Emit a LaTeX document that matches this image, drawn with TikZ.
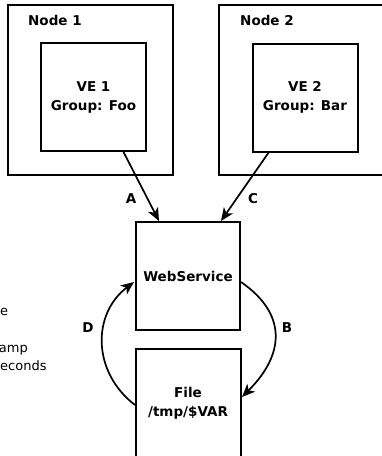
\documentclass[tikz,border=0pt]{standalone}
\usepackage{fontspec}
\setmainfont{DejaVu Sans}
\usetikzlibrary{arrows.meta}
\begin{document}
\begin{tikzpicture}[x=1pt,y=-1pt,
  every node/.style={font=\fontsize{13.5pt}{19pt}\selectfont\bfseries},
  box/.style={draw,line width=2pt,inner sep=0pt,align=center},
  flow/.style={line width=1.7pt,-{Stealth[length=13pt,width=11pt,inset=3.5pt]}},
  tag/.style={inner sep=0pt},
  note/.style={inner sep=0pt,font=\fontsize{13pt}{16pt}\selectfont}]
\useasboundingbox (0,0) rectangle (382,456);

% hosts
\node[box,minimum width=165pt,minimum height=170pt] (n1) at (90.5,90) {};
\node[box,minimum width=165pt,minimum height=170pt] (n2) at (301.5,90) {};
\node[tag,anchor=west] (n1lbl) at (28,20) {Node 1};
\node[tag,anchor=west] (n2lbl) at (240,20) {Node 2};

% virtual environments
\node[box,minimum width=105pt,minimum height=108pt] (ve1) at (93.5,97) {VE 1\\Group: Foo};
\node[box,minimum width=105pt,minimum height=108pt] (ve2) at (305,97.5) {VE 2\\Group: Bar};

% service and its file
\node[box,minimum width=104pt,minimum height=108pt] (ws) at (188,276) {WebService};
\node[box,minimum width=105pt,minimum height=109pt] (file) at (188,403.5) {File\\/tmp/\$VAR};

% anchor points for the connectors
\coordinate (a0) at (123,151);
\coordinate (a1) at (159,221);
\coordinate (c0) at (269,152);
\coordinate (c1) at (221,221);
\coordinate (b0) at (241,282);
\coordinate (b1) at (242,397);
\coordinate (d0) at (135,405);
\coordinate (d1) at (134,282);

\draw[flow] (a0) -- (a1);
\draw[flow] (c0) -- (c1);
\draw[flow] (b0) .. controls (286,313) and (286,353) .. (b1);
\draw[flow] (d0) .. controls (92,372) and (92,314) .. (d1);

\node[tag] (la) at (131,199) {A};
\node[tag] (lc) at (253,199) {C};
\node[tag] (lb) at (287,328) {B};
\node[tag] (ld) at (88,328) {D};

% side notes
\node[note,anchor=west] (t1) at (0,312) {e};
\node[note,anchor=east] (t2) at (28,350) {amp};
\node[note,anchor=west] (t3) at (0,366) {econds};
\end{tikzpicture}
\end{document}
